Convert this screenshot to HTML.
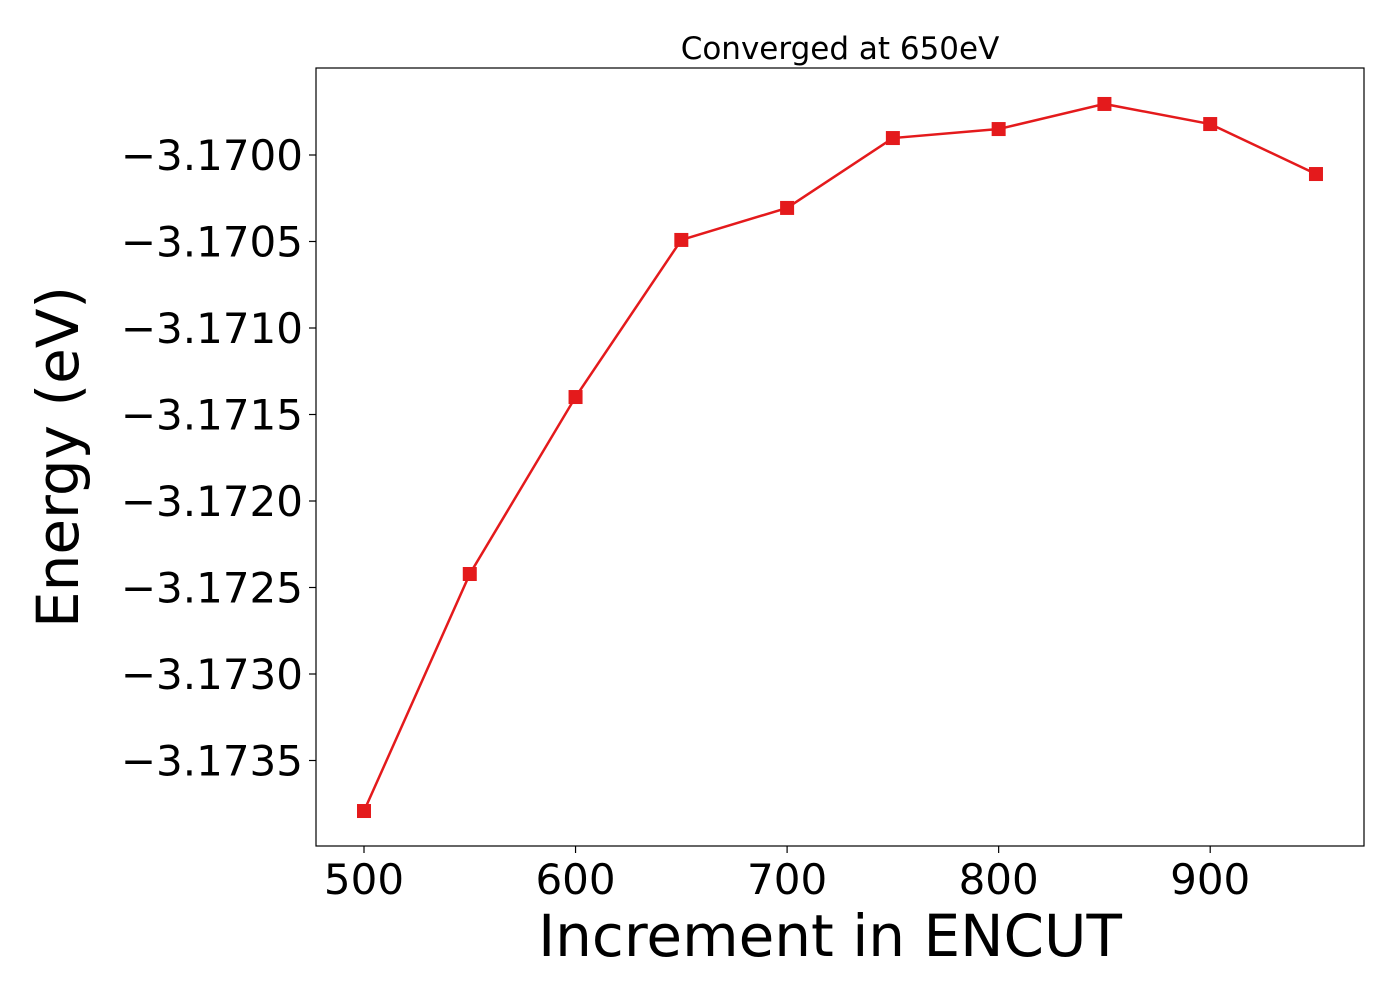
<!DOCTYPE html>
<html><head><meta charset="utf-8"><style>
body{margin:0;background:#fff;}
svg text{font-family:"DejaVu Sans","Liberation Sans",sans-serif;fill:#000;}
</style></head><body>
<svg id="chart" width="1400" height="1000">
<rect x="0" y="0" width="1400" height="1000" fill="#fff"/>
<text x="840" y="59" font-size="31" text-anchor="middle">Converged at 650eV</text>
<g id="xticks"></g>
<g id="yticks"></g>
<g id="series"></g>
<rect x="316" y="68" width="1048" height="778" fill="none" stroke="#000" stroke-width="1.2"/>
<text x="830" y="956" font-size="58" text-anchor="middle">Increment in ENCUT</text>
<text transform="translate(78,457) rotate(-90)" font-size="58" text-anchor="middle">Energy (eV)</text>
</svg>
<script>
const categories=[500,550,600,650,700,750,800,850,900,950];
const energy=[-3.173792,-3.172422,-3.171399,-3.170491,-3.170306,-3.169902,-3.169850,-3.169705,-3.169821,-3.170110];
const xTicks=[500,600,700,800,900];
const yTicks=[-3.1700,-3.1705,-3.1710,-3.1715,-3.1720,-3.1725,-3.1730,-3.1735];
const NS="http://www.w3.org/2000/svg";
function xs(v){return 364+(v-500)*2.1155;}
function ys(v){return 155+(-3.17-v)/0.0005*86.5;}
const xg=document.getElementById('xticks'),yg=document.getElementById('yticks'),sg=document.getElementById('series');
function mk(tag,attrs,parent){const e=document.createElementNS(NS,tag);for(const k in attrs)e.setAttribute(k,attrs[k]);parent.appendChild(e);return e;}
xTicks.forEach(t=>{
 const l=mk('line',{x1:xs(t),x2:xs(t),y1:846,y2:853,stroke:'#000','stroke-width':1.2},xg);
 
 
 const tx=mk('text',{x:xs(t),y:894,'font-size':42,'text-anchor':'middle'},xg);
 tx.textContent=t;
 
 
});
yTicks.forEach(t=>{
 const l=mk('line',{x1:309,x2:316,y1:ys(t),y2:ys(t),stroke:'#000','stroke-width':1.2},yg);
 
 
 const tx=mk('text',{x:303,y:ys(t)+15,'font-size':42,'text-anchor':'end'},yg);
 tx.textContent='\u2212'+Math.abs(t).toFixed(4);
 
 
});
const pts=categories.map((c,i)=>xs(c)+','+ys(energy[i])).join(' ');
const pl=mk('polyline',{points:pts,fill:'none',stroke:'#e41a1c','stroke-width':2.5},sg);


categories.forEach((c,i)=>{
 const r=mk('rect',{x:xs(c)-7,y:ys(energy[i])-7,width:14,height:14,fill:'#e41a1c'},sg);
 
 
});
</script>
</body></html>
